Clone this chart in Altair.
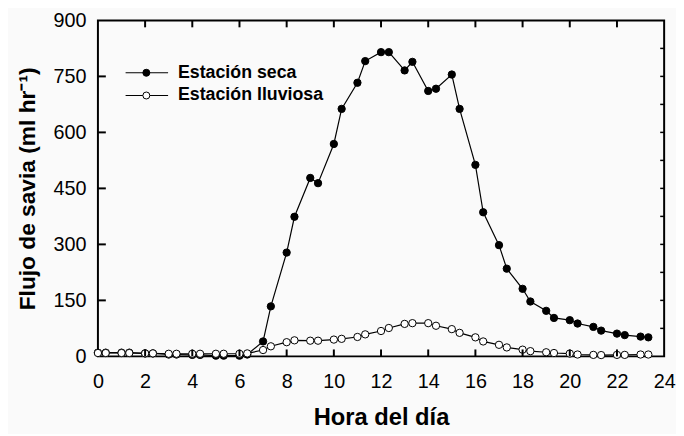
import altair as alt
import pandas as pd

hours = [0.0, 0.33, 1.0, 1.33, 2.0, 2.33, 3.0, 3.33, 4.0, 4.33, 5.0, 5.33,
         6.0, 6.33, 7.0, 7.33, 8.0, 8.33, 9.0, 9.33, 10.0, 10.33, 11.0, 11.33,
         12.0, 12.33, 13.0, 13.33, 14.0, 14.33, 15.0, 15.33, 16.0, 16.33, 17.0, 17.33,
         18.0, 18.33, 19.0, 19.33, 20.0, 20.33, 21.0, 21.33, 22.0, 22.33, 23.0, 23.33]

dry = [10, 10, 10, 10, 8, 8, 5, 5, 4, 4, 2, 2,
       2, 5, 40, 134, 278, 374, 478, 464, 569, 663, 733, 791,
       815, 815, 766, 789, 711, 717, 755, 663, 513, 386, 298, 235,
       181, 147, 122, 103, 97, 88, 79, 69, 61, 57, 53, 51]

wet = [9, 9, 9, 9, 8, 8, 7, 7, 7, 7, 7, 7,
       7, 8, 17, 27, 38, 43, 42, 42, 45, 47, 52, 59,
       68, 76, 87, 89, 89, 82, 73, 63, 51, 40, 31, 24,
       18, 14, 11, 9, 7.5, 5, 4, 3.5, 4, 4, 5, 5]

series_names = ["Estación seca", "Estación lluviosa"]
x_ticks = [0, 2, 4, 6, 8, 10, 12, 14, 16, 18, 20, 22, 24]
y_ticks = [0, 150, 300, 450, 600, 750, 900]
y_right_ticks = [75, 150, 225, 300, 375, 450, 525, 600, 675, 750, 825]

x_title = "Hora del día"
y_title = "Flujo de savia (ml hr⁻¹)"

W, H = 573, 340
FONT = "Liberation Sans"

xs = alt.Scale(domain=[0, 24], nice=False, zero=False)
ys = alt.Scale(domain=[0, 900], nice=False, zero=False)

x_axis = alt.Axis(values=x_ticks, ticks=False, tickSize=0, domain=False, grid=False,
                  labelFont=FONT, labelFontSize=20, labelColor="black", labelPadding=15,
                  labelFlush=False, labelOverlap=False,
                  title=x_title, titleFont=FONT, titleFontSize=24, titleFontWeight="bold",
                  titleColor="black", titlePadding=15)
y_axis = alt.Axis(values=y_ticks, ticks=False, tickSize=0, domain=False, grid=False,
                  labelFont=FONT, labelFontSize=20, labelColor="black", labelPadding=12,
                  labelFlush=False, labelOverlap=False,
                  title=y_title, titleFont=FONT, titleFontSize=23, titleFontWeight="bold",
                  titleColor="black", titlePadding=14)

dry_df = pd.DataFrame({"hora": hours, "flujo": dry})
wet_df = pd.DataFrame({"hora": hours, "flujo": wet})

enc = dict(x=alt.X("hora:Q", scale=xs, axis=x_axis),
           y=alt.Y("flujo:Q", scale=ys, axis=y_axis))

dry_line = alt.Chart(dry_df).mark_line(color="black", strokeWidth=1.2).encode(**enc)
dry_pts = alt.Chart(dry_df).mark_point(shape="circle", filled=True, fill="black",
                                       stroke="black", strokeWidth=1, size=55,
                                       opacity=1).encode(**enc)
wet_line = alt.Chart(wet_df).mark_line(color="black", strokeWidth=1.2).encode(**enc)
wet_pts = alt.Chart(wet_df).mark_point(shape="circle", filled=True, fill="white",
                                       stroke="black", strokeWidth=1, size=55,
                                       opacity=1).encode(**enc)

xt_df = pd.DataFrame({"hora": x_ticks[1:-1]})
yt_df = pd.DataFrame({"flujo": y_ticks[1:-1]})
yr_df = pd.DataFrame({"flujo": y_right_ticks})

bottom_ticks = alt.Chart(xt_df).mark_rule(color="black", strokeWidth=2).encode(
    x=alt.X("hora:Q", scale=xs, axis=x_axis), y=alt.value(H), y2=alt.value(H - 7))
top_ticks = alt.Chart(xt_df).mark_rule(color="black", strokeWidth=2).encode(
    x=alt.X("hora:Q", scale=xs, axis=x_axis), y=alt.value(0), y2=alt.value(7))
left_ticks = alt.Chart(yt_df).mark_rule(color="black", strokeWidth=2).encode(
    y=alt.Y("flujo:Q", scale=ys, axis=y_axis), x=alt.value(0), x2=alt.value(8))
right_ticks = alt.Chart(yr_df).mark_rule(color="black", strokeWidth=1.5).encode(
    y=alt.Y("flujo:Q", scale=ys, axis=y_axis), x=alt.value(W), x2=alt.value(W - 4))

# manual legend
leg_df = pd.DataFrame({"k": [0]})
legend_layers = []
row_y = [53, 76]
fills = ["black", "white"]
for name, yy, fc in zip(series_names, row_y, fills):
    legend_layers.append(alt.Chart(leg_df).mark_rule(color="black", strokeWidth=1.2).encode(
        x=alt.value(28), x2=alt.value(71), y=alt.value(yy)))
    legend_layers.append(alt.Chart(leg_df).mark_point(shape="circle", filled=True, fill=fc,
                                                      stroke="black", strokeWidth=1, size=50,
                                                      opacity=1).encode(
        x=alt.value(49), y=alt.value(yy)))
    legend_layers.append(alt.Chart(leg_df).mark_text(text=name, align="left", baseline="middle",
                                                     font=FONT, fontSize=18, fontWeight="bold",
                                                     color="black").encode(
        x=alt.value(81), y=alt.value(yy)))

chart = alt.layer(
    dry_line, dry_pts, wet_line, wet_pts,
    bottom_ticks, top_ticks, left_ticks, right_ticks,
    *legend_layers
).properties(
    width=W, height=H,
    padding={"left": 91, "top": 10, "right": 12, "bottom": 76},
    autosize=alt.AutoSizeParams(type="none"),
    background="#fafafa"
).configure_view(stroke="black", strokeWidth=2)

chart.save("out.html", embed_options={"renderer": "svg", "actions": False})
